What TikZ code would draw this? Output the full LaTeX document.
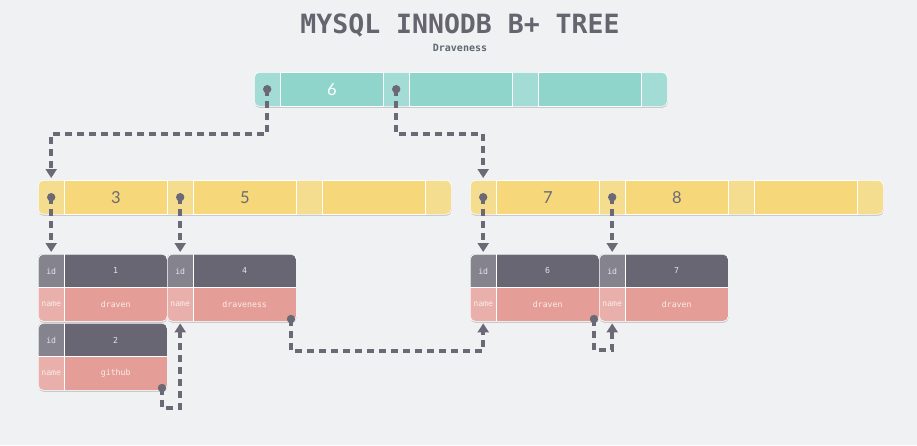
\documentclass[tikz,border=0pt]{standalone}
\usepackage{fontspec}
\setmainfont{Lato}
\setmonofont{DejaVu Sans Mono}
\usetikzlibrary{arrows.meta}
\definecolor{bgc}{HTML}{F0F1F3}
\definecolor{tealk}{HTML}{8FD5CC}
\definecolor{tealp}{HTML}{A3DCD4}
\definecolor{yelk}{HTML}{F6D77A}
\definecolor{yelp}{HTML}{F5DD90}
\definecolor{idlab}{HTML}{85838E}
\definecolor{idval}{HTML}{686672}
\definecolor{nmlab}{HTML}{E8AFAB}
\definecolor{nmval}{HTML}{E59E97}
\definecolor{linkc}{HTML}{6B6975}
\definecolor{titlec}{HTML}{65646F}
\definecolor{subc}{HTML}{5D6870}
\definecolor{shadowc}{HTML}{C9CACE}
\definecolor{idtxt}{HTML}{E4E4EA}
\definecolor{nmtxt}{HTML}{FBEDEB}
\tikzset{
  link/.style={draw=linkc, line width=4pt, dash pattern=on 7pt off 5pt,
    -{Triangle[width=11pt,length=9pt]}},
  keytext/.style={font=\fontsize{16.5}{17}\selectfont},
  rectext/.style={font=\ttfamily\fontsize{8.2}{9}\selectfont},
  cellbox/.style={inner sep=0pt, anchor=north west, draw=none},
  recbox/.style={inner sep=0pt, anchor=north west, draw=white, line width=0.6pt,
    rounded corners=5pt, minimum width=129pt, minimum height=67pt},
}
\newcommand\BTreeNode[9]{%
  \fill[shadowc, rounded corners=5pt] (#2+0.5,#3+1.8) rectangle ++(413,34);
  \node[cellbox, fill=#5, draw=white, line width=0.6pt, rounded corners=5pt,
    minimum width=413pt, minimum height=34pt] (#1) at (#2,#3) {};
  \foreach \i/\k in {0/#6,1/#7,2/#8} {
    \node[cellbox, fill=#4, draw=white, line width=0.8pt, minimum width=103pt,
      minimum height=34pt, text=#9, keytext] (#1-k\i) at (#2+26+\i*129,#3) {\k};
  }
  \foreach \i in {0,...,3} {
    \node[cellbox, minimum width=26pt, minimum height=34pt] (#1-p\i) at (#2+\i*129,#3) {};
  }
}
\newcommand\LeafRec[5]{%
  \fill[shadowc, rounded corners=5pt] (#2+0.5,#3+1.8) rectangle ++(129,67);
  \begin{scope}
    \clip[rounded corners=5pt] (#2,#3) rectangle ++(129,67);
    \fill[idlab] (#2,#3) rectangle ++(26,33.5);
    \fill[idval] (#2+26,#3) rectangle ++(103,33.5);
    \fill[nmlab] (#2,#3+33.5) rectangle ++(26,33.5);
    \fill[nmval] (#2+26,#3+33.5) rectangle ++(103,33.5);
    \draw[white, line width=1pt] (#2,#3+33.5) -- ++(129,0) (#2+26,#3) -- ++(0,67);
  \end{scope}
  \node[recbox] (#1) at (#2,#3) {};
  \node[cellbox, rectext, text=idtxt, minimum width=26pt, minimum height=33.5pt] (#1-idl) at (#2,#3) {id};
  \node[cellbox, rectext, text=idtxt, minimum width=103pt, minimum height=33.5pt] (#1-idv) at (#2+26,#3) {#4};
  \node[cellbox, rectext, text=nmtxt, minimum width=26pt, minimum height=33.5pt] (#1-nml) at (#2,#3+33.5) {name};
  \node[cellbox, rectext, text=nmtxt, minimum width=103pt, minimum height=33.5pt] (#1-nmv) at (#2+26,#3+33.5) {#5};
  \coordinate (#1-dot) at (#2+124,#3+65);
}
\begin{document}
\begin{tikzpicture}[x=1pt,y=-1pt]
\fill[bgc] (0,0) rectangle (917,445);
\useasboundingbox (0,0) rectangle (917,445);

\node[font=\ttfamily\bfseries\fontsize{26.5}{28}\selectfont, text=titlec] (title) at (460,25) {MYSQL INNODB B+ TREE};
\node[font=\ttfamily\bfseries\fontsize{10}{11}\selectfont, text=subc] (sub) at (460,48) {Draveness};

\BTreeNode{root}{254}{72}{tealk}{tealp}{6}{}{}{white}
\BTreeNode{L}{38}{180}{yelk}{yelp}{3}{5}{}{linkc}
\BTreeNode{R}{470}{180}{yelk}{yelp}{7}{8}{}{linkc}

\LeafRec{rec1}{38}{254}{1}{draven}
\LeafRec{rec2}{38}{323}{2}{github}
\LeafRec{rec4}{167}{254}{4}{draveness}
\LeafRec{rec6}{470}{254}{6}{draven}
\LeafRec{rec7}{599}{254}{7}{draven}

\coordinate (j1) at (0,134);
\coordinate (lk1) at (0,408);
\coordinate (lk2) at (0,351);
\coordinate (lk3) at (0,350);

\draw[link] (root-p0.center) -- (root-p0.center |- j1) -| ([yshift=2pt]L-p0.north);
\draw[link] (root-p1.center) -- (root-p1.center |- j1) -| ([yshift=2pt]R-p0.north);

\draw[link] (L-p0.center) -- ([yshift=2pt]rec1-idl.north);
\draw[link] (L-p1.center) -- ([yshift=2pt]rec4-idl.north);
\draw[link] (R-p0.center) -- ([yshift=2pt]rec6-idl.north);
\draw[link] (R-p1.center) -- ([yshift=2pt]rec7-idl.north);

\draw[link] (rec2-dot) -- (rec2-dot |- lk1) -| ([yshift=-2pt]rec4-nml.south);
\draw[link] (rec4-dot) -- (rec4-dot |- lk2) -| ([yshift=-2pt]rec6-nml.south);
\draw[link] (rec6-dot) -- (rec6-dot |- lk3) -| ([yshift=-2pt]rec7-nml.south);

\foreach \d in {root-p0,root-p1,L-p0,L-p1,R-p0,R-p1} {
  \fill[linkc] (\d.center) circle (4.2pt);
}
\foreach \d in {rec2-dot,rec4-dot,rec6-dot} {
  \fill[linkc] (\d) circle (4.2pt);
}
\end{tikzpicture}
\end{document}
